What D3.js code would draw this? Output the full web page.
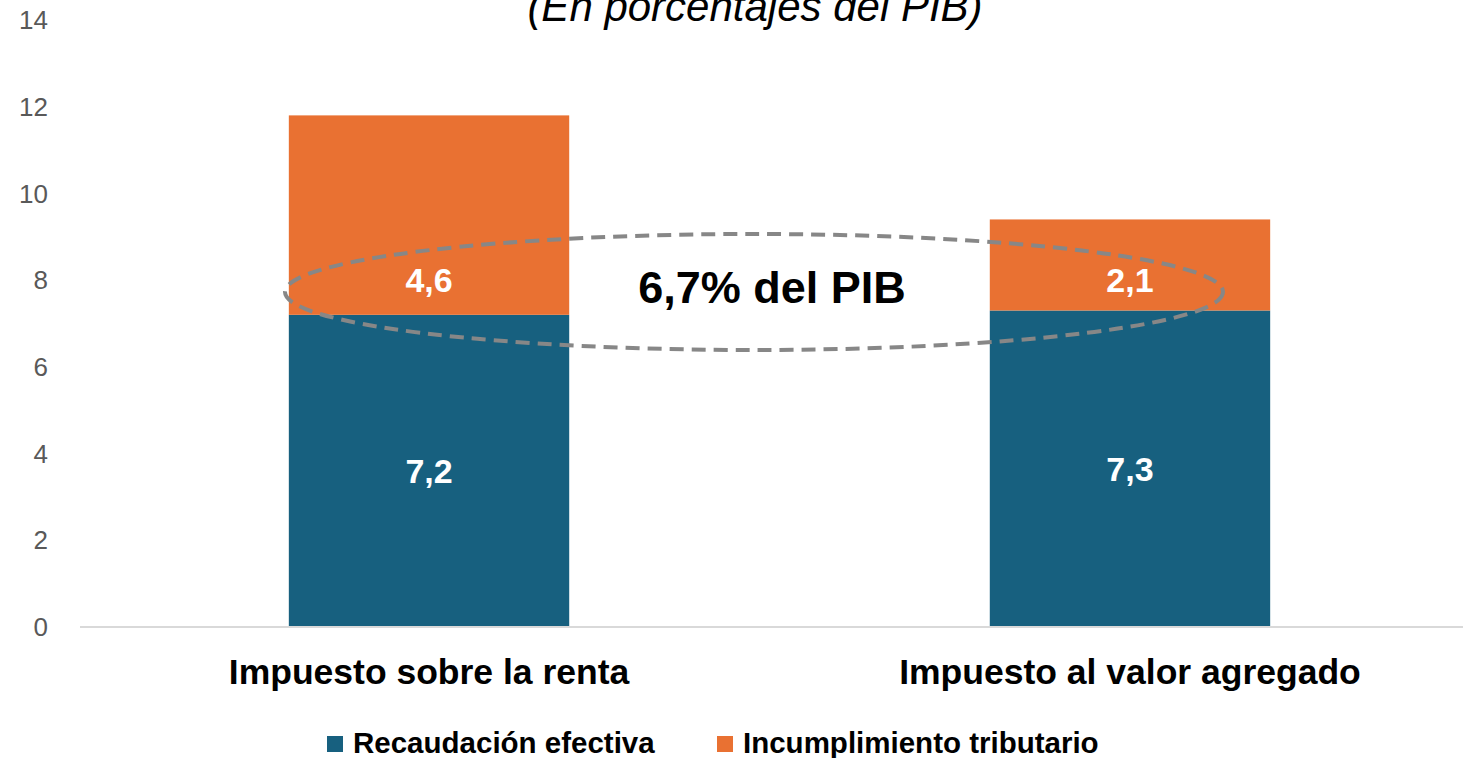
<!DOCTYPE html>
<html>
<head>
<meta charset="utf-8">
<script src="https://cdn.jsdelivr.net/npm/d3@7"></script>
<style>
  body { margin: 0; background: #fff; }
  svg { display: block; }
</style>
</head>
<body>
<div id="chart"></div>
<script>
// Data
var categories = ["Impuesto sobre la renta", "Impuesto al valor agregado"];
var recaudacion = [7.2, 7.3];
var incumplimiento = [4.6, 2.1];
var seriesNames = ["Recaudación efectiva", "Incumplimiento tributario"];
var yTicks = [0, 2, 4, 6, 8, 10, 12, 14];
var brecha = "6,7% del PIB";

var width = 1463;
var height = 758;
var colors = ["#17607f", "#e97132"];
var font = "Liberation Sans, Arial, sans-serif";

var svg = d3.select("#chart").append("svg")
    .attr("width", width)
    .attr("height", height);

var x = d3.scaleBand().domain(categories).range([88, 1471]).paddingInner(0.6).paddingOuter(0.2865);
var y = d3.scaleLinear().domain([0, 14]).range([627, 20]);

// title (cut off at top)
svg.append("text")
    .attr("x", 755).attr("y", 21)
    .attr("text-anchor", "middle")
    .style("font-family", font)
    .style("font-style", "italic")
    .style("font-size", "42px")
    .style("fill", "#000")
    .text("(En porcentajes del PIB)");

// y tick labels
svg.append("g").selectAll("text").data(yTicks).enter().append("text")
    .attr("x", 48)
    .attr("y", function(d){ return y(d); })
    .attr("dy", "0.35em")
    .attr("text-anchor", "end")
    .style("font-family", font)
    .style("font-size", "26px")
    .style("fill", "#595959")
    .text(function(d){ return d; });

// stacked data
var rows = categories.map(function(c, i){
    return { cat: c, a: recaudacion[i], b: incumplimiento[i] };
});
var stack = d3.stack().keys(["a", "b"])(rows);

svg.append("g").selectAll("g").data(stack).enter().append("g")
    .attr("fill", function(d, i){ return colors[i]; })
    .selectAll("rect").data(function(d){ return d; }).enter().append("rect")
    .attr("x", function(d){ return x(d.data.cat); })
    .attr("width", x.bandwidth())
    .attr("y", function(d){ return y(d[1]); })
    .attr("height", function(d){ return y(d[0]) - y(d[1]); });

// baseline
svg.append("line")
    .attr("x1", 80).attr("x2", 1463)
    .attr("y1", y(0)).attr("y2", y(0))
    .attr("stroke", "#d9d9d9").attr("stroke-width", 2);

// value labels
var labelStyle = function(sel){
    sel.attr("text-anchor", "middle")
        .attr("dy", "0.35em")
        .style("font-family", font)
        .style("font-weight", "bold")
        .style("font-size", "34px")
        .style("fill", "#fff");
};
svg.append("g").selectAll("text").data(rows).enter().append("text")
    .attr("x", function(d){ return x(d.cat) + x.bandwidth() / 2; })
    .attr("y", function(d){ return y(d.a / 2); })
    .text(function(d){ return d.a.toFixed(1).replace(".", ","); })
    .call(labelStyle);
svg.append("g").selectAll("text").data(rows).enter().append("text")
    .attr("x", function(d){ return x(d.cat) + x.bandwidth() / 2; })
    .attr("y", y(8))
    .text(function(d){ return d.b.toFixed(1).replace(".", ","); })
    .call(labelStyle);

// dashed ellipse
svg.append("ellipse")
    .attr("cx", 754).attr("cy", 292)
    .attr("rx", 469).attr("ry", 58)
    .attr("fill", "none")
    .attr("stroke", "#878787")
    .attr("stroke-width", 4)
    .attr("stroke-dasharray", "14,8");

svg.append("text")
    .attr("x", 772).attr("y", 287)
    .attr("dy", "0.35em")
    .attr("text-anchor", "middle")
    .style("font-family", font)
    .style("font-weight", "bold")
    .style("font-size", "45px")
    .style("fill", "#000")
    .text(brecha);

// category labels
svg.append("g").selectAll("text").data(categories).enter().append("text")
    .attr("x", function(d){ return x(d) + x.bandwidth() / 2; })
    .attr("y", 684)
    .attr("text-anchor", "middle")
    .style("font-family", font)
    .style("font-weight", "bold")
    .style("font-size", "35.5px")
    .style("fill", "#000")
    .text(function(d){ return d; });

// legend
var legendX = [327, 717];
var legend = svg.append("g").selectAll("g").data(seriesNames).enter().append("g")
    .attr("transform", function(d, i){ return "translate(" + legendX[i] + ",736)"; });
legend.append("rect").attr("width", 16).attr("height", 16)
    .attr("fill", function(d, i){ return colors[i]; });
legend.append("text")
    .attr("x", 26).attr("y", 17)
    .style("font-family", font)
    .style("font-weight", "bold")
    .style("font-size", "29.5px")
    .style("fill", "#000")
    .text(function(d){ return d; });
</script>
</body>
</html>
